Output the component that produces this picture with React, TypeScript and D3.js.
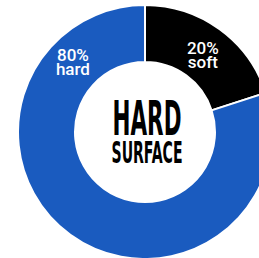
import { useMemo } from 'react';
import * as d3 from 'd3';

type Slice = { key: string; value: number };

const labels = ['soft', 'hard'];
const values = [20, 80];
const colors = ['#000000', '#1a5bbf'];
const titleLines = ['HARD', 'SURFACE'];

const width = 259,
  height = 258,
  cx = 145,
  cy = 132,
  outerR = 127,
  innerR = 70;

export default function App() {
  const data: Slice[] = labels.map((k, i) => ({ key: k, value: values[i] }));

  const arcs = useMemo(
    () =>
      d3
        .pie<Slice>()
        .sort(null)
        .value((d) => d.value)(data),
    []
  );

  const arc = d3.arc<d3.PieArcDatum<Slice>>().innerRadius(innerR).outerRadius(outerR);
  const labelArc = d3.arc<any>().innerRadius(innerR).outerRadius(outerR + 8);

  const color = d3.scaleOrdinal<string>().domain(labels).range(colors);

  // the big slice's label sits up in the top-left, not at its centroid
  const labelPos = (d: d3.PieArcDatum<Slice>, i: number) => {
    if (i === 0) return arc.centroid(d);
    const a = -0.78;
    return labelArc.centroid({ startAngle: a, endAngle: a });
  };

  return (
    <svg
      width={width}
      height={height}
      style={{ position: 'absolute', left: 0, top: 0, background: '#fff' }}
    >
      <g transform={`translate(${cx},${cy})`}>
        {arcs.map((d, i) => (
          <path key={i} d={arc(d) ?? ''} fill={color(d.data.key)} stroke="#fff" strokeWidth={2} />
        ))}
        {arcs.map((d, i) => {
          const [x, y] = labelPos(d, i);
          return (
            <text
              key={'l' + i}
              x={x}
              y={y}
              textAnchor="middle"
              fill="#fff"
              fontFamily="Roboto, 'Liberation Sans', sans-serif"
              fontWeight={500}
              fontSize={17}
            >
              <tspan x={x} dy={2}>{d.data.value}%</tspan>
              <tspan x={x} dy={14}>{d.data.key}</tspan>
            </text>
          );
        })}
        <text
          x={2}
          y={3}
          textAnchor="middle"
          fontFamily="'Liberation Sans Narrow', 'DejaVu Sans Condensed', sans-serif"
          fontWeight={700}
          fontSize={48}
          textLength={69}
          lengthAdjust="spacingAndGlyphs"
          fill="#000"
        >
          {titleLines[0]}
        </text>
        <text
          x={2}
          y={31}
          textAnchor="middle"
          fontFamily="'Liberation Sans Narrow', 'DejaVu Sans Condensed', sans-serif"
          fontWeight={700}
          fontSize={31}
          textLength={71}
          lengthAdjust="spacingAndGlyphs"
          fill="#000"
        >
          {titleLines[1]}
        </text>
      </g>
    </svg>
  );
}
